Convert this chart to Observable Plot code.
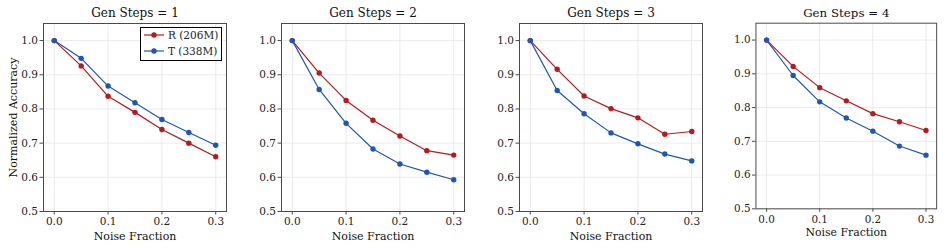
<!DOCTYPE html>
<html>
<head>
<meta charset="utf-8">
<script src="https://cdn.jsdelivr.net/npm/d3@7"></script>
<script src="https://cdn.jsdelivr.net/npm/@observablehq/plot@0.6"></script>
<style>
  html, body { margin: 0; padding: 0; background: #fff; }
  #root { position: relative; width: 947px; height: 249px; font-family: "DejaVu Serif", serif; }
  .panel { position: absolute; top: 0; }
  .legend { position: absolute; left: 140px; top: 27px; width: 80px; height: 32px; border: 1px solid #000; background: #fff; font-size: 10.5px; color: #222; }
  .legend .row { position: absolute; left: 3px; height: 14px; display: flex; align-items: center; white-space: nowrap; }
  .legend svg { margin-right: 4px; }
</style>
</head>
<body>
<div id="root"></div>
<script>
const noise = [0, 0.05, 0.1, 0.15, 0.2, 0.25, 0.3];
const panelTitles = ["Gen Steps = 1", "Gen Steps = 2", "Gen Steps = 3", "Gen Steps = 4"];
const seriesNames = ["R (206M)", "T (338M)"];
const seriesColors = ["#b31b1f", "#1f56b3"];
const R = [
  [1.0, 0.926, 0.837, 0.790, 0.740, 0.700, 0.660],
  [1.0, 0.905, 0.825, 0.767, 0.721, 0.678, 0.665],
  [1.0, 0.916, 0.838, 0.801, 0.774, 0.726, 0.734],
  [1.0, 0.922, 0.859, 0.820, 0.782, 0.758, 0.732]
];
const T = [
  [1.0, 0.948, 0.867, 0.818, 0.769, 0.731, 0.694],
  [1.0, 0.857, 0.758, 0.683, 0.639, 0.615, 0.593],
  [1.0, 0.854, 0.786, 0.730, 0.698, 0.668, 0.648],
  [1.0, 0.895, 0.817, 0.769, 0.730, 0.686, 0.659]
];
const xTicks = [0, 0.1, 0.2, 0.3];
const yTicks = [0.5, 0.6, 0.7, 0.8, 0.9, 1.0];
const xLabel = "Noise Fraction";
const yLabel = "Normalized Accuracy";

const root = document.getElementById("root");
const svgLefts = [0, 238, 476, 713];
const ML = 43, MR = 11, W = 237;

for (let p = 0; p < 4; p++) {
  const data = [];
  noise.forEach((x, i) => {
    data.push({x, y: R[p][i], s: seriesNames[0]});
    data.push({x, y: T[p][i], s: seriesNames[1]});
  });
  const marks = [
    Plot.gridX(xTicks, {stroke: "#e6e6e6", strokeOpacity: 1, strokeWidth: 0.8}),
    Plot.gridY(yTicks, {stroke: "#e6e6e6", strokeOpacity: 1, strokeWidth: 0.8}),
    Plot.line(data, {x: "x", y: "y", z: "s", stroke: "s", strokeWidth: 1.2}),
    Plot.dot(data, {x: "x", y: "y", fill: "s", r: 2.7}),
    Plot.frame({stroke: "#4a4a4a", strokeWidth: 1}),
    Plot.axisX(xTicks, {tickFormat: d3.format(".1f"), tickSize: 3.5, tickPadding: 3, fontSize: 10.5, label: null, stroke: "#4a4a4a", color: "#222"}),
    Plot.axisY(yTicks, {tickFormat: d3.format(".1f"), tickSize: 3.5, tickPadding: 2, fontSize: 10.5, label: null, stroke: "#4a4a4a", color: "#222"}),
    Plot.text([panelTitles[p]], {frameAnchor: "top", lineAnchor: "middle", dy: -10.5, fontSize: 12, fill: "#111"}),
    Plot.text([xLabel], {frameAnchor: "bottom", lineAnchor: "middle", dy: 24.5, fontSize: 11, fill: "#111"})
  ];
  if (p === 0) {
    marks.push(Plot.text([yLabel], {frameAnchor: "left", textAnchor: "middle", lineAnchor: "middle", dx: -30.5, rotate: -90, fontSize: 11, fill: "#111"}));
  }
  const chart = Plot.plot({
    width: W, height: 249,
    marginLeft: ML, marginRight: MR, marginTop: 23, marginBottom: 38,
    style: {fontFamily: "DejaVu Serif", background: "transparent", overflow: "visible"},
    x: {domain: [-0.02, 0.32]},
    y: {domain: [0.5, 1.05]},
    color: {domain: seriesNames, range: seriesColors},
    marks
  });
  const div = document.createElement("div");
  div.className = "panel";
  div.style.left = svgLefts[p] + "px";
  div.appendChild(chart);
  root.appendChild(div);
}

// legend
const leg = document.createElement("div");
leg.className = "legend";
seriesNames.forEach((name, i) => {
  const row = document.createElement("div");
  row.className = "row";
  row.style.top = (i === 0 ? 0 : 16) + "px";
  const c = seriesColors[i];
  row.innerHTML = `<svg width="20" height="8"><line x1="0" x2="20" y1="4" y2="4" stroke="${c}" stroke-width="1.2"/><circle cx="10" cy="4" r="2.7" fill="${c}"/></svg><span>${name}</span>`;
  leg.appendChild(row);
});
root.appendChild(leg);
</script>
</body>
</html>
